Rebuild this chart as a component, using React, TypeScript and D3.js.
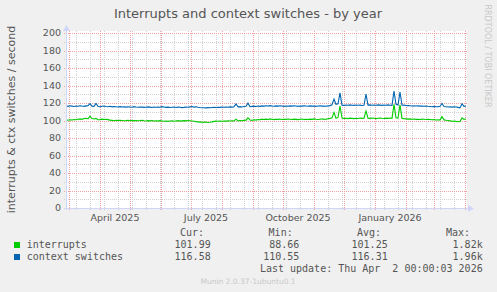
import React from "react";
import * as d3 from "d3";

// ---- data (2-day resolution, starting 2025-02-26) ----
const contextSwitches: number[] = [
  116.5, 116.2, 116.8, 116.4, 116.0, 116.6, 116.3, 116.9, 116.5, 116.2,
  116.7, 117.0, 119.3, 116.4, 116.1, 119.5, 116.3, 115.8, 116.2, 116.5,
  116.0, 115.8, 116.2, 115.6, 115.9, 115.7, 115.5, 115.8, 115.4, 115.6,
  115.3, 115.7, 115.5, 115.2, 115.8, 115.4, 115.1, 115.5, 115.3, 115.0,
  115.2, 115.6, 115.3, 114.9, 115.4, 115.1, 115.5, 115.2, 115.8, 115.4,
  115.0, 115.3, 114.8, 115.2, 115.5, 114.9, 115.3, 115.1, 114.7, 115.0,
  115.4, 115.1, 115.6, 116.0, 115.3, 115.7, 115.2, 114.8, 114.6, 114.5,
  114.4, 114.7, 114.5, 114.9, 115.1, 114.8, 115.2, 115.0, 115.3, 115.1,
  115.5, 115.2, 115.6, 115.3, 115.8, 118.9, 115.6, 115.9, 115.5, 116.0,
  116.2, 119.8, 115.8, 116.1, 116.4, 116.0, 116.5, 116.2, 116.7, 116.4,
  116.8, 116.5, 117.0, 116.6, 116.3, 116.7, 116.4, 116.8, 116.5, 116.2,
  116.6, 116.3, 116.7, 116.4, 116.8, 116.5, 116.2, 116.6, 116.4, 116.7,
  116.5, 116.3, 116.7, 116.4, 116.6, 116.2, 116.5, 116.8, 116.4, 116.6,
  116.3, 116.7, 117.0, 118.0, 124.5, 118.5, 119.0, 131.5, 117.5, 117.3,
  117.6, 117.4, 117.8, 117.5, 117.3, 117.7, 117.4, 117.6, 117.2, 117.5,
  130.3, 117.6, 117.8, 117.4, 117.7, 117.5, 117.9, 117.6, 117.3, 117.7,
  117.4, 117.8, 117.5, 117.3, 133.5, 118.5, 117.8, 132.6, 117.4, 117.6,
  117.2, 117.0, 116.8, 116.6, 116.9, 116.5, 116.7, 116.4, 116.6, 116.3,
  116.5, 116.2, 116.0, 115.8, 116.1, 115.7, 115.9, 116.2, 119.4, 116.0,
  115.8, 115.5, 115.7, 115.3, 115.6, 115.4, 115.0, 114.4, 119.0, 116.2,
  116.58,
];

const interrupts: number[] = [
  100.6, 100.3, 100.8, 100.5, 101.2, 100.9, 101.5, 101.8, 101.3, 102.2,
  102.6, 101.9, 105.0, 102.3, 101.7, 102.4, 100.8, 101.0, 101.6, 101.2,
  101.5, 101.0, 100.4, 100.1, 99.8, 100.2, 99.9, 100.3, 100.0, 99.7,
  99.9, 100.2, 99.8, 100.1, 99.6, 100.0, 99.7, 99.9, 100.2, 99.8,
  99.5, 99.9, 99.6, 100.0, 99.4, 99.7, 99.3, 99.8, 99.5, 99.2,
  99.5, 99.0, 99.4, 99.7, 99.1, 99.5, 99.8, 99.3, 99.6, 99.9,
  99.6, 100.0, 99.7, 99.4, 99.1, 98.7, 98.4, 98.1, 98.3, 97.9,
  98.2, 97.8, 98.0, 98.4, 99.0, 99.3, 99.1, 99.4, 99.2, 99.5,
  99.3, 99.6, 99.4, 99.7, 99.5, 101.5, 99.6, 100.0, 99.7, 100.1,
  100.4, 103.0, 100.6, 100.2, 100.9, 100.5, 101.2, 100.8, 101.5, 101.1,
  101.6, 101.2, 101.8, 101.4, 101.0, 101.5, 101.3, 101.7, 101.2, 101.5,
  101.3, 101.7, 101.4, 101.1, 101.6, 101.3, 101.0, 101.4, 101.7, 101.2,
  101.5, 101.2, 101.6, 101.3, 101.8, 101.4, 101.1, 101.5, 101.9, 101.3,
  101.6, 102.0, 102.4, 103.0, 109.3, 102.5, 103.5, 116.6, 102.8, 102.4,
  102.6, 102.2, 102.7, 102.4, 102.1, 102.5, 102.3, 102.8, 102.4, 102.6,
  110.9, 102.7, 102.4, 102.8, 102.5, 102.2, 102.6, 102.9, 102.5, 102.3,
  102.7, 102.4, 102.8, 102.5, 118.5, 103.0, 102.6, 118.0, 102.4, 102.1,
  101.9, 101.6, 101.8, 101.4, 101.7, 101.3, 101.5, 101.2, 101.6, 101.4,
  101.1, 101.5, 101.2, 100.8, 101.0, 100.6, 100.9, 100.5, 104.4, 100.7,
  100.3, 100.0, 99.6, 99.2, 99.5, 99.0, 98.6, 98.8, 103.0, 101.2,
  101.99,
];

const yTicks: number[] = [0, 20, 40, 60, 80, 100, 120, 140, 160, 180, 200];
const xLabels: { label: string; date: Date }[] = [
  { label: "April 2025", date: new Date(Date.UTC(2025, 3, 16)) },
  { label: "July 2025", date: new Date(Date.UTC(2025, 6, 16)) },
  { label: "October 2025", date: new Date(Date.UTC(2025, 9, 16)) },
  { label: "January 2026", date: new Date(Date.UTC(2026, 0, 16)) },
];

const seriesNames = ["interrupts", "context switches"];
const seriesColors = ["#00CC00", "#0066B3"];
const statHeaders = ["Cur:", "Min:", "Avg:", "Max:"];
const statValues: string[][] = [
  ["101.99", "88.66", "101.25", "1.82k"],
  ["116.58", "110.55", "116.31", "1.96k"],
];

const startDate = new Date(Date.UTC(2025, 1, 26));
const endDate = new Date(Date.UTC(2026, 3, 2));
const minorGridStart = new Date(Date.UTC(2025, 2, 8));

export default function App() {
  const W = 497;
  const H = 292;
  const left = 66;
  const right = 466;
  const top = 33;
  const bottom = 208;

  const x = d3.scaleUtc().domain([startDate, endDate]).range([left, right]);
  const y = d3.scaleLinear().domain([0, 200]).range([bottom, top]);

  const dates = interrupts.map((_, i) => d3.utcDay.offset(startDate, i * 2));

  const line = d3
    .line<number>()
    .x((_, i) => x(dates[i]))
    .y((d) => y(d));

  const months = d3.utcMonth.range(startDate, d3.utcDay.offset(endDate, 1));
  const minorDates: Date[] = [];
  for (let d = minorGridStart; d <= endDate; d = d3.utcDay.offset(d, 14)) minorDates.push(d);
  const minorY = d3.range(10, 200, 20);

  const sans = "DejaVu Sans, sans-serif";
  const mono = "DejaVu Sans Mono, monospace";
  const fg = "#555";
  const gridMinor = "#d0d0d0";
  const gridMajor = "#f0a0a0";
  const axisCol = "#CFD6F8";

  const headerX = [204, 292.7, 381, 470];
  const valueX = [210.7, 299.3, 387.7, 482.7];

  return (
    <svg width={W} height={H} style={{ position: "absolute", left: 0, top: 0 }}>
      <rect x={0} y={0} width={W} height={H} fill="#F0F0F0" />
      <rect x={left} y={31} width={right - left + 1} height={bottom - 31} fill="#fff" />

      {/* minor grid */}
      {minorY.map((v) => (
        <line key={"my" + v} x1={left - 2} x2={right + 2} y1={Math.round(y(v)) + 0.5} y2={Math.round(y(v)) + 0.5}
          stroke={gridMinor} strokeDasharray="1,1" />
      ))}
      {minorDates.map((d, i) => (
        <line key={"mx" + i} x1={Math.round(x(d)) + 0.5} x2={Math.round(x(d)) + 0.5} y1={31} y2={bottom + 2}
          stroke={gridMinor} strokeDasharray="1,1" />
      ))}
      {/* major grid */}
      {yTicks.filter((v) => v > 0).map((v) => (
        <line key={"My" + v} x1={left - 2} x2={right + 2} y1={Math.round(y(v)) + 0.5} y2={Math.round(y(v)) + 0.5}
          stroke={gridMajor} strokeDasharray="1,1" />
      ))}
      {months.map((d, i) => (
        <line key={"Mx" + i} x1={Math.round(x(d)) + 0.5} x2={Math.round(x(d)) + 0.5} y1={31} y2={bottom + 3}
          stroke={gridMajor} strokeDasharray="1,1" />
      ))}

      {/* series */}
      <path d={line(contextSwitches) || ""} fill="none" stroke={seriesColors[1]} strokeWidth={1.1} />
      <path d={line(interrupts) || ""} fill="none" stroke={seriesColors[0]} strokeWidth={1.1} />

      {/* axes */}
      <line x1={left - 2} x2={right + 3} y1={bottom + 0.5} y2={bottom + 0.5} stroke={axisCol} />
      <path d={`M${right + 2},${bottom - 3} L${right + 8},${bottom + 0.5} L${right + 2},${bottom + 4} Z`} fill={axisCol} />
      <line x1={left + 0.5} x2={left + 0.5} y1={bottom + 2} y2={30} stroke={axisCol} />
      <path d={`M${left - 3},${31} L${left + 0.5},${25} L${left + 4},${31} Z`} fill={axisCol} />

      {/* y tick labels */}
      {yTicks.map((v) => (
        <text key={"yt" + v} x={61} y={y(v) + 3.4} textAnchor="end" fontFamily={sans} fontSize={9.5} fill={fg}>
          {v}
        </text>
      ))}
      {/* x labels */}
      {xLabels.map((l) => (
        <text key={l.label} x={x(l.date)} y={220.5} textAnchor="middle" fontFamily={sans} fontSize={9.5} fill={fg}>
          {l.label}
        </text>
      ))}

      {/* title */}
      <text x={248} y={17.5} textAnchor="middle" fontFamily={sans} fontSize={13} fill={fg}>
        Interrupts and context switches - by year
      </text>
      {/* y axis title */}
      <text transform={`translate(14.5,${(top + bottom) / 2 - 1}) rotate(-90)`} textAnchor="middle" fontFamily={sans}
        fontSize={11} fill={fg}>
        interrupts &amp; ctx switches / second
      </text>
      {/* watermark */}
      <text transform={`translate(484.5,56) rotate(90)`} textAnchor="middle" fontFamily={sans} fontSize={8}
        fill="#c8c8c8">
        RRDTOOL / TOBI OETIKER
      </text>

      {/* legend */}
      {statHeaders.map((h, i) => (
        <text key={h} x={headerX[i]} y={236} textAnchor="end" fontFamily={mono} fontSize={10} fill={fg}>
          {h}
        </text>
      ))}
      {seriesNames.map((name, r) => (
        <g key={name}>
          <rect x={14} y={242 + r * 12} width={6} height={6} fill={seriesColors[r]} />
          <text x={26.7} y={248 + r * 12.3} fontFamily={mono} fontSize={10} fill={fg} xmlSpace="preserve">
            {name}
          </text>
          {statValues[r].map((v, i) => (
            <text key={i} x={valueX[i]} y={248 + r * 12.3} textAnchor="end" fontFamily={mono} fontSize={10} fill={fg}>
              {v}
            </text>
          ))}
        </g>
      ))}
      <text x={482.7} y={272} textAnchor="end" fontFamily={mono} fontSize={10} fill={fg} style={{ whiteSpace: "pre" }}>
        {"Last update: Thu Apr  2 00:00:03 2026"}
      </text>
      <text x={248} y={284} textAnchor="middle" fontFamily={sans} fontSize={7.5} fill="#c8c8c8">
        Munin 2.0.37-1ubuntu0.1
      </text>
    </svg>
  );
}
